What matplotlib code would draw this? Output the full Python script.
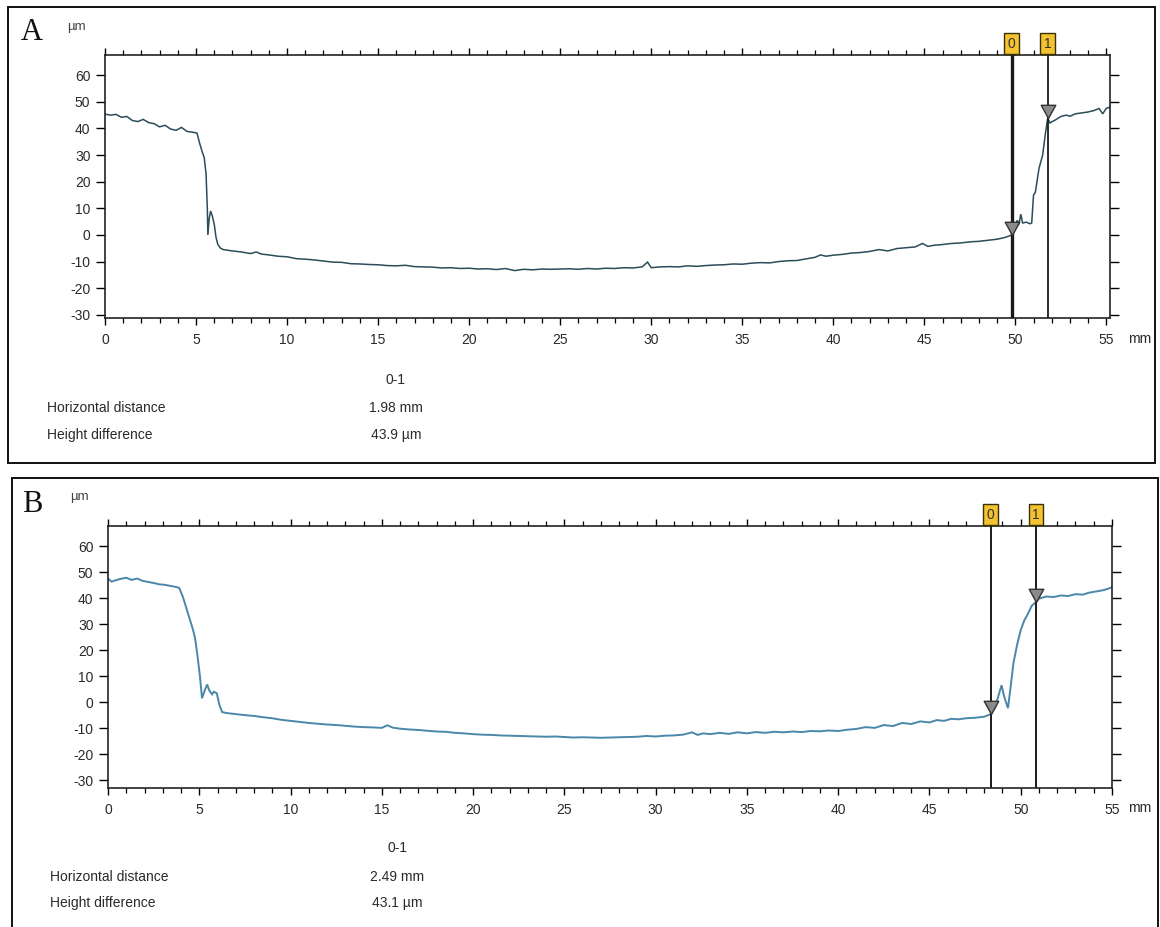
import matplotlib
matplotlib.use("Agg")
import matplotlib.pyplot as plt
from matplotlib.patches import Rectangle
from matplotlib.path import Path
from matplotlib.ticker import MultipleLocator

plt.rcParams["font.family"] = ["Liberation Sans", "DejaVu Sans"]
plt.rcParams["axes.unicode_minus"] = False

# ---- profile A (mm, µm) ----
xa = [0.0, 0.3, 0.6, 0.9, 1.2, 1.5, 1.8, 2.1, 2.4, 2.7, 3.0, 3.3, 3.6, 3.9, 4.2,
      4.5, 4.8, 5.05, 5.2, 5.35, 5.45, 5.55, 5.62, 5.65, 5.72, 5.8, 5.9, 6.0, 6.1,
      6.2, 6.35, 6.5, 7.0, 7.5, 8.0, 8.3, 8.6, 9.0, 9.5, 10.0, 10.5, 11.0, 11.5,
      12.0, 12.5, 13.0, 13.5, 14.0, 14.5, 15.0, 15.5, 16.0, 16.5, 17.0, 17.5, 18.0,
      18.5, 19.0, 19.5, 20.0, 20.5, 21.0, 21.5, 22.0, 22.5, 23.0, 23.5, 24.0, 24.5,
      25.0, 25.5, 26.0, 26.5, 27.0, 27.5, 28.0, 28.5, 29.0, 29.5, 29.8, 30.0, 30.5,
      31.0, 31.5, 32.0, 32.5, 33.0, 33.5, 34.0, 34.5, 35.0, 35.5, 36.0, 36.5, 37.0,
      37.5, 38.0, 38.5, 39.0, 39.3, 39.6, 40.0, 40.5, 41.0, 41.5, 42.0, 42.5, 43.0,
      43.5, 44.0, 44.5, 44.9, 45.2, 45.5, 46.0, 46.5, 47.0, 47.5, 48.0, 48.5, 49.0,
      49.4, 49.7, 49.8, 50.0, 50.1, 50.2, 50.3, 50.4, 50.6, 50.8, 50.9, 51.0, 51.1,
      51.3, 51.5, 51.65, 51.78, 51.9, 52.0, 52.2, 52.5, 52.8, 53.0, 53.3, 53.6,
      54.0, 54.3, 54.6, 54.8, 55.0, 55.2]
ya = [45.4, 45.0, 45.3, 44.2, 44.5, 43.0, 42.6, 43.4, 42.2, 41.8, 40.6, 41.2, 39.8,
      39.3, 40.4, 38.9, 38.6, 38.3, 34.4, 31.0, 29.0, 23.0, 10.0, 0.0, 6.0, 9.0, 7.0,
      4.0, -1.0, -3.6, -5.0, -5.5, -6.0, -6.4, -7.0, -6.4, -7.2, -7.5, -8.0, -8.2,
      -8.9, -9.1, -9.4, -9.8, -10.2, -10.3, -10.8, -10.9, -11.1, -11.2, -11.5, -11.6,
      -11.4, -11.9, -12.0, -12.1, -12.4, -12.3, -12.6, -12.5, -12.8, -12.7, -13.0,
      -12.6, -13.4, -12.9, -13.1, -12.8, -12.9, -12.8, -12.7, -12.9, -12.6, -12.8,
      -12.5, -12.6, -12.3, -12.4, -12.0, -10.2, -12.3, -12.0, -11.9, -12.0, -11.6,
      -11.8, -11.5, -11.3, -11.2, -10.9, -11.0, -10.6, -10.4, -10.5, -10.0, -9.7,
      -9.6, -9.0, -8.4, -7.5, -8.0, -7.6, -7.3, -6.8, -6.6, -6.2, -5.5, -6.0, -5.1,
      -4.8, -4.5, -3.2, -4.3, -3.9, -3.6, -3.2, -3.0, -2.6, -2.4, -2.0, -1.6, -1.0,
      -0.3, 0.0, 3.0, 5.5, 4.0, 7.8, 4.5, 4.8, 4.2, 4.5, 15.0, 16.0, 25.0, 30.0,
      38.0, 43.9, 42.0, 42.5, 43.2, 44.5, 45.0, 44.6, 45.5, 45.8, 46.2, 46.7, 47.5,
      45.5, 47.6, 48.0]

# ---- profile B (mm, µm) ----
xb = [0.0, 0.2, 0.4, 0.7, 1.0, 1.3, 1.6, 1.9, 2.2, 2.5, 2.8, 3.1, 3.4, 3.7, 3.9,
      4.1, 4.3, 4.5, 4.65, 4.77, 4.9, 5.04, 5.15, 5.3, 5.43, 5.55, 5.7, 5.8, 5.96,
      6.1, 6.25, 6.5, 7.0, 7.5, 8.0, 8.5, 9.0, 9.5, 10.0, 10.5, 11.0, 11.5, 12.0,
      12.5, 13.0, 13.5, 14.0, 14.5, 15.0, 15.3, 15.6, 16.0, 16.5, 17.0, 17.5, 18.0,
      18.5, 19.0, 19.5, 20.0, 20.5, 21.0, 21.5, 22.0, 22.5, 23.0, 23.5, 24.0, 24.5,
      25.0, 25.5, 26.0, 26.5, 27.0, 27.5, 28.0, 28.5, 29.0, 29.5, 30.0, 30.5, 31.0,
      31.5, 32.0, 32.3, 32.6, 33.0, 33.5, 34.0, 34.5, 35.0, 35.5, 36.0, 36.5, 37.0,
      37.5, 38.0, 38.5, 39.0, 39.5, 40.0, 40.5, 41.0, 41.5, 42.0, 42.5, 43.0, 43.5,
      44.0, 44.5, 45.0, 45.4, 45.8, 46.2, 46.6, 47.0, 47.5, 48.0, 48.35, 48.6, 48.8,
      48.95, 49.1, 49.3, 49.45, 49.6, 49.8, 50.0, 50.2, 50.4, 50.6, 50.84, 51.0,
      51.4, 51.8, 52.2, 52.6, 53.0, 53.4, 53.7, 54.1, 54.5, 54.8, 55.0]
yb = [47.5, 46.3, 46.8, 47.4, 47.8, 47.0, 47.5, 46.6, 46.2, 45.8, 45.3, 45.1, 44.7,
      44.3, 43.9, 40.5, 36.0, 31.5, 28.0, 24.6, 18.0, 9.7, 1.5, 4.5, 6.8, 4.5, 3.0,
      4.0, 3.4, -1.0, -3.8, -4.2, -4.6, -5.0, -5.3, -5.8, -6.2, -6.8, -7.2, -7.6,
      -8.0, -8.3, -8.6, -8.8, -9.1, -9.4, -9.6, -9.7, -9.9, -8.9, -9.8, -10.2, -10.5,
      -10.7, -11.0, -11.3, -11.4, -11.8, -12.0, -12.3, -12.5, -12.6, -12.8, -12.9,
      -13.0, -13.1, -13.2, -13.3, -13.2, -13.4, -13.6, -13.5, -13.6, -13.7, -13.6,
      -13.5, -13.4, -13.3, -13.0, -13.2, -12.9, -12.8, -12.5, -11.6, -12.6, -12.0,
      -12.3, -11.8, -12.2, -11.6, -12.0, -11.5, -11.8, -11.4, -11.6, -11.3, -11.5,
      -11.1, -11.2, -10.9, -11.1, -10.6, -10.3, -9.6, -9.9, -8.8, -9.2, -8.0, -8.4,
      -7.4, -7.8, -6.9, -7.2, -6.4, -6.6, -6.2, -6.0, -5.6, -4.6, -2.0, 3.0, 6.5,
      2.0, -2.3, 6.0, 15.0, 22.0, 27.7, 31.5, 34.0, 37.0, 38.5, 39.8, 40.6, 40.4,
      41.0, 40.8, 41.5, 41.3, 42.0, 42.5, 43.0, 43.6, 44.2]

# cursor readouts
dist_a, dh_a = 1.98, 43.9
dist_b, dh_b = 2.49, 43.1
c0_a = (49.8, 0.0)
c0_b = (48.35, -4.6)

yticks = [-30, -20, -10, 0, 10, 20, 30, 40, 50, 60]
xticks = [0, 5, 10, 15, 20, 25, 30, 35, 40, 45, 50, 55]

W, H = 1160, 927
fig = plt.figure(figsize=(W / 100, H / 100), dpi=100)
fig.patch.set_facecolor("white")


def fx(px):
    return px / W


def fy(py):
    return 1 - py / H


# downward triangle whose tip sits on the profile
tri = Path([(-0.55, 1.0), (0.55, 1.0), (0.0, 0.0), (-0.55, 1.0)],
           [Path.MOVETO, Path.LINETO, Path.LINETO, Path.CLOSEPOLY])

TXT = "#2a2a2a"


def panel(box, ax_px, xs, ys, color, lw, ylim, xlim, c0, dist, dh,
          cur_w, letter, letter_xy, unit_xy, info_px, mm_xy, lab_px):
    bx0, by0, bx1, by1 = box
    fig.patches.append(Rectangle((fx(bx0), fy(by1)), fx(bx1) - fx(bx0),
                                 fy(by0) - fy(by1), transform=fig.transFigure,
                                 fill=False, edgecolor="#111111", linewidth=1.4))
    l, t, r, b = ax_px
    ax = fig.add_axes([fx(l), fy(b), fx(r) - fx(l), fy(t) - fy(b)])
    ax.plot(xs, ys, color=color, lw=lw, solid_joinstyle="miter")
    ax.set_xlim(*xlim)
    ax.set_ylim(*ylim)
    ax.set_xticks(xticks)
    ax.set_yticks(yticks)
    ax.xaxis.set_minor_locator(MultipleLocator(1))
    ax.tick_params(axis="x", which="major", direction="out", length=5, width=1,
                   top=True, labeltop=False, pad=6, labelsize=10, labelcolor=TXT)
    ax.tick_params(axis="x", which="minor", direction="out", length=3.5,
                   width=0.9, top=True)
    ax.tick_params(axis="y", which="major", direction="out", length=6.5,
                   width=1, right=True, labelright=False, pad=4,
                   labelsize=10, labelcolor=TXT)
    for s in ax.spines.values():
        s.set_linewidth(1.2)
        s.set_color("#222222")

    # cursors
    x0, y0 = c0
    x1, y1 = x0 + dist, y0 + dh
    for i, (cx, cy) in enumerate([(x0, y0), (x1, y1)]):
        ax.axvline(cx, color="#1a1a1a", lw=cur_w[i], zorder=3)
        ax.plot([cx], [cy], marker=tri, markersize=19, color="#8a8a8a",
                markeredgecolor="#333333", markeredgewidth=1.0, zorder=4)
        ax.annotate(str(i), xy=(cx, 1.0), xycoords=("data", "axes fraction"),
                    xytext=(0, 8), textcoords="offset points",
                    ha="center", va="center", fontsize=10, color="#333333",
                    annotation_clip=False,
                    bbox=dict(boxstyle="square,pad=0.25", fc="#f2c230",
                              ec="#3a3000", lw=1.0))

    fig.text(fx(letter_xy[0]), fy(letter_xy[1]), letter, fontsize=22,
             family=["Liberation Serif", "DejaVu Serif"], ha="center",
             va="center", color="#111111")
    fig.text(fx(unit_xy[0]), fy(unit_xy[1]), "µm", fontsize=9.5, ha="center",
             va="center", color="#444444")
    fig.text(fx(mm_xy[0]), fy(mm_xy[1]), "mm", fontsize=10, ha="left",
             va="center", color=TXT)

    cx_val, y_hdr, y_hd, y_ht = info_px
    fig.text(fx(cx_val), fy(y_hdr), "0-1", fontsize=10, ha="center",
             va="center", color=TXT)
    fig.text(fx(lab_px), fy(y_hd), "Horizontal distance", fontsize=10,
             ha="left", va="center", color=TXT)
    fig.text(fx(lab_px), fy(y_ht), "Height difference", fontsize=10,
             ha="left", va="center", color=TXT)
    fig.text(fx(cx_val), fy(y_hd), f"{dist:.2f} mm", fontsize=10,
             ha="center", va="center", color=TXT)
    fig.text(fx(cx_val), fy(y_ht), f"{dh:.1f} µm", fontsize=10,
             ha="center", va="center", color=TXT)
    return ax


panel(box=(8, 7, 1155, 463), ax_px=(105, 55, 1110, 318), xs=xa, ys=ya,
      color="#2b4c5a", lw=1.1, ylim=(-31.2, 67.6), xlim=(0, 55.2),
      c0=c0_a, dist=dist_a, dh=dh_a, cur_w=(2.4, 1.3), letter="A",
      letter_xy=(32, 33), unit_xy=(76, 27), info_px=(396, 380, 408, 435),
      mm_xy=(1128, 339), lab_px=47)

panel(box=(12, 478, 1158, 935), ax_px=(108, 526, 1112, 788), xs=xb, ys=yb,
      color="#4a87a8", lw=1.4, ylim=(-33.0, 67.7), xlim=(0, 55.0),
      c0=c0_b, dist=dist_b, dh=dh_b, cur_w=(1.4, 1.4), letter="B",
      letter_xy=(32, 504), unit_xy=(79, 497), info_px=(397, 848, 877, 903),
      mm_xy=(1128, 808), lab_px=50)

fig.savefig("out.png", dpi=100, facecolor="white")
